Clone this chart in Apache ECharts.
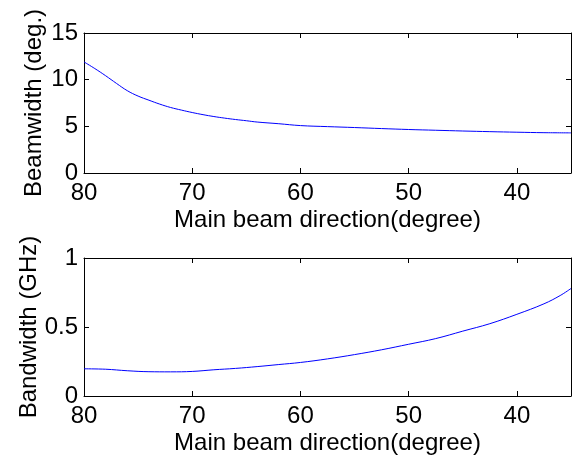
<!DOCTYPE html>
<html>
<head>
<meta charset="utf-8">
<script src="https://cdn.jsdelivr.net/npm/echarts@6/dist/echarts.min.js"></script>
<style>
  html, body { margin: 0; padding: 0; background: #fff; }
  #chart { width: 578px; height: 459px; }
</style>
</head>
<body>
<div id="chart"></div>
<script>
// Beamwidth versus main beam direction
const beamDirDeg = [80, 79, 78, 77, 76, 75, 74, 73, 72, 71, 70, 69, 68, 67, 66, 65, 64, 62, 60,
                    57.5, 55, 52.5, 50, 47.5, 45, 42.5, 40, 37.5, 35];
const beamwidthDeg = [11.9, 11.19, 10.42, 9.6, 8.82, 8.24, 7.8, 7.38, 7.02, 6.74, 6.48, 6.25, 6.05, 5.88, 5.73, 5.6, 5.46, 5.28, 5.08,
                      4.97, 4.87, 4.76, 4.66, 4.58, 4.5, 4.43, 4.37, 4.32, 4.3];

// Bandwidth versus main beam direction
const bandDirDeg = [80, 78, 76, 74, 72, 70, 68, 66, 64, 62, 60, 57.5, 55, 52.5, 50, 47.5, 45, 42.5, 40, 37.5, 36, 35];
const bandwidthGHz = [0.197, 0.194, 0.183, 0.176, 0.175, 0.178, 0.19, 0.2, 0.213, 0.228, 0.243, 0.269, 0.3, 0.335,
                      0.375, 0.416, 0.47, 0.524, 0.592, 0.668, 0.728, 0.779];

// Tick labels
const dirTicks = [40, 50, 60, 70, 80];
const beamTicks = [0, 5, 10, 15];
const bandTicks = [0, 0.5, 1];

const FONT = '"Liberation Sans", Arial, Helvetica, sans-serif';
const INK = '#000';

function pairs(xs, ys) { return xs.map((x, i) => [x, ys[i]]); }

function dirAxis(grid, pos, withLabels) {
  return {
    type: 'value', gridIndex: grid, position: pos,
    min: 35, max: 80, inverse: true,
    axisLine: { show: true, onZero: false, lineStyle: { color: INK, width: 1 } },
    axisTick: { show: true, inside: true, length: 5, customValues: dirTicks, lineStyle: { color: INK } },
    axisLabel: withLabels ? {
      show: true, customValues: dirTicks, margin: 8,
      fontFamily: FONT, fontSize: 24, color: INK
    } : { show: false },
    splitLine: { show: false },
    name: withLabels ? 'Main beam direction(degree)' : '',
    nameLocation: 'middle', nameGap: 35,
    nameTextStyle: { fontFamily: FONT, fontSize: 24, color: INK }
  };
}

function valAxis(grid, pos, max, interval, ticks, title, gap) {
  const withLabels = pos === 'left';
  return {
    type: 'value', gridIndex: grid, position: pos,
    min: 0, max: max, interval: interval,
    axisLine: { show: true, onZero: false, lineStyle: { color: INK, width: 1 } },
    axisTick: { show: true, inside: true, length: 5, lineStyle: { color: INK } },
    axisLabel: withLabels ? {
      show: true, margin: 6, fontFamily: FONT, fontSize: 24, color: INK,
      formatter: v => String(v)
    } : { show: false },
    splitLine: { show: false },
    name: withLabels ? title : '',
    nameLocation: 'middle', nameGap: gap, nameRotate: 90,
    nameMoveOverlap: false,
    nameTextStyle: { fontFamily: FONT, fontSize: 24, color: INK }
  };
}

const chart = echarts.init(document.getElementById('chart'), null, { renderer: 'canvas' });
chart.setOption({
  animation: false,
  backgroundColor: '#fff',
  grid: [
    { left: 84, right: 7, top: 33, height: 140 },
    { left: 84, right: 7, top: 258, height: 138 }
  ],
  xAxis: [
    dirAxis(0, 'bottom', true),
    dirAxis(0, 'top', false),
    dirAxis(1, 'bottom', true),
    dirAxis(1, 'top', false)
  ],
  yAxis: [
    valAxis(0, 'left', 15, 5, beamTicks, 'Beamwidth (deg.)', 38),
    valAxis(0, 'right', 15, 5, beamTicks, '', 0),
    valAxis(1, 'left', 1, 0.5, bandTicks, 'Bandwidth (GHz)', 43),
    valAxis(1, 'right', 1, 0.5, bandTicks, '', 0)
  ],
  series: [
    {
      type: 'line', xAxisIndex: 0, yAxisIndex: 0,
      data: pairs(beamDirDeg, beamwidthDeg),
      smooth: 0.4, showSymbol: false,
      lineStyle: { color: '#0000ff', width: 1 }
    },
    {
      type: 'line', xAxisIndex: 2, yAxisIndex: 2,
      data: pairs(bandDirDeg, bandwidthGHz),
      smooth: 0.4, showSymbol: false,
      lineStyle: { color: '#0000ff', width: 1 }
    }
  ]
});
</script>
</body>
</html>
